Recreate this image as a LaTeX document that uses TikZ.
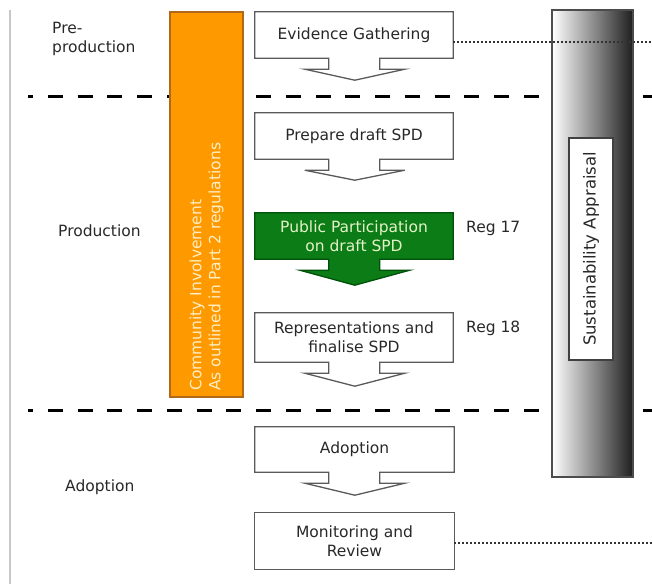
\documentclass[tikz,border=0pt]{standalone}
\usepackage{fontspec}
\setmainfont{DejaVu Sans}
\usetikzlibrary{calc,backgrounds}
\definecolor{orangebar}{RGB}{255,153,0}
\definecolor{orangeedge}{RGB}{175,105,25}
\definecolor{greenbox}{RGB}{12,124,22}
\definecolor{greenedge}{RGB}{0,80,10}
\definecolor{greentext}{RGB}{228,242,200}
\definecolor{creamtext}{RGB}{255,238,195}
\definecolor{boxedge}{RGB}{90,90,90}
\definecolor{txt}{RGB}{40,40,40}
% #1 node, #2 style, #3 half head width, #4 tip depth
\newcommand\downcallout[4]{%
  \path[#2] ($(#1.south west)+(74,0)$) -- (#1.south west) -- (#1.north west)
    -- (#1.north east) -- (#1.south east) -- ($(#1.south west)+(125,0)$)
    -- ($(#1.south west)+(125,11)$) -- ($(#1.south west)+(100+#3,11)$)
    -- ($(#1.south west)+(100,#4)$) -- ($(#1.south west)+(100-#3,11)$)
    -- ($(#1.south west)+(74,11)$) -- cycle;}
\tikzset{
  every node/.style={font=\fontsize{15.5}{19}\selectfont, text=txt},
  boxtext/.style={inner sep=0pt, align=center},
  whitecall/.style={draw=boxedge, line width=1.3pt, fill=white, line join=miter},
  greencall/.style={draw=greenedge, line width=1.3pt, fill=greenbox, line join=miter},
  phase/.style={line width=3pt, black, dash pattern=on 15pt off 14.75pt, dash phase=10pt},
  dotline/.style={line width=1.3pt, black!80, dash pattern=on 1.8pt off 2.2pt},
  sidelabel/.style={anchor=west, align=left, inner sep=0pt},
}
\begin{document}
\begin{tikzpicture}[x=1pt, y=-1pt]
\useasboundingbox (0,0) rectangle (652,584);
% left rule
\draw[black!22, line width=1.5pt] (10,10) -- (10,584);
% phase separators
\draw[phase] (28,96) -- (652,96);
\draw[phase] (28,410) -- (652,410);
% side labels
\node[sidelabel] (pre) at (52,39) {Pre-\\production};
\node[sidelabel] (prod) at (58,231) {Production};
\node[sidelabel] (adl) at (65,487) {Adoption};
% community involvement bar
\node[draw=orangeedge, line width=1.3pt, fill=orangebar, minimum width=73pt,
      minimum height=385pt, inner sep=0pt] (ci) at (206.5,204.5) {};
\node[rotate=90, anchor=west, align=left, inner sep=0pt, text=creamtext]
      (citext) at (ci.south |- 0,391) {Community Involvement\\As outlined in Part 2 regulations};
% sustainability appraisal bar
\node[draw=black!70, line width=1.5pt, left color=white, middle color=black!30,
      right color=black!88, minimum width=81pt, minimum height=467pt, inner sep=0pt]
      (sa) at (592.5,243.5) {};
\node[draw=black!75, line width=1.3pt, fill=white, minimum width=44pt,
      minimum height=222pt, inner sep=0pt] (sabox) at (591,249) {};
\node[rotate=90, inner sep=0pt, font=\fontsize{16.5}{19}\selectfont] (satext) at (sabox) {Sustainability Appraisal};
% process boxes
\node[boxtext, minimum width=198pt, minimum height=46pt] (ev) at (354,35) {Evidence Gathering};
\node[boxtext, minimum width=198pt, minimum height=46pt] (prep) at (354,136) {Prepare draft SPD};
\node[boxtext, minimum width=198pt, minimum height=46pt, text=greentext] (pub) at (354,236) {Public Participation\\on draft SPD};
\node[boxtext, minimum width=198pt, minimum height=49pt] (rep) at (354,337.5) {Representations and\\finalise SPD};
\node[boxtext, minimum width=199pt, minimum height=45pt] (adopt) at (354.5,449.5) {Adoption};
\node[boxtext, minimum width=199pt, minimum height=56pt] (mon) at (354.5,541) {Monitoring and\\Review};
\begin{pgfonlayer}{background}
\downcallout{ev}{whitecall}{50}{22}
\downcallout{prep}{whitecall}{50}{21}
\downcallout{pub}{greencall}{55}{26}
\downcallout{rep}{whitecall}{50}{24}
\downcallout{adopt}{whitecall}{50}{23}
\draw[boxedge, line width=1.3pt] (mon.south west) rectangle (mon.north east);
\end{pgfonlayer}
% regulation labels
\node[sidelabel] (r17) at (466,228) {Reg 17};
\node[sidelabel] (r18) at (466,328) {Reg 18};
% links to sustainability appraisal
\coordinate (e1) at (652,42);
\coordinate (e2) at (652,543);
\draw[dotline] (ev.east |- e1) -- (e1);
\draw[dotline] (mon.east |- e2) -- (e2);
\end{tikzpicture}
\end{document}
